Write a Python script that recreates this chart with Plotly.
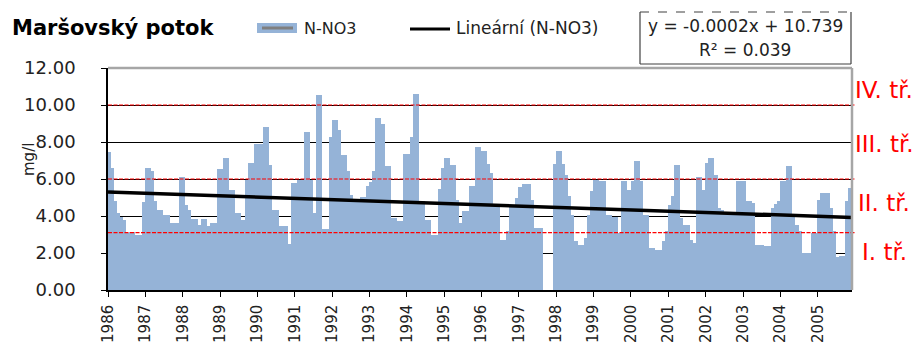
import numpy as np
import plotly.graph_objects as go

# Monthly N-NO3 concentration (mg/l), January 1986 - December 2005
years = list(range(1986, 2006))
n_no3 = [
    # 1986
    7.33, 6.49, 4.68, 4.05, 3.82, 3.69, 2.88, 2.95, 3.03, 2.88, 2.88, 2.88,
    # 1987
    4.65, 6.49, 6.30, 4.68, 4.20, 4.20, 3.93, 3.93, 3.33, 3.51, 3.51, 3.51,
    # 1988
    5.98, 4.50, 4.23, 3.75, 3.75, 3.42, 3.42, 3.75, 3.33, 3.33, 3.51, 3.51,
    # 1989
    6.43, 6.43, 7.03, 5.28, 5.28, 4.05, 4.05, 3.69, 3.69, 5.86, 6.76, 6.76,
    # 1990
    7.78, 7.78, 7.78, 8.68, 6.63, 4.23, 4.23, 3.33, 3.33, 3.33, 2.40, 2.40,
    # 1991
    5.68, 5.68, 5.86, 5.86, 8.43, 5.86, 4.05, 4.05, 10.41, 3.20, 3.20, 3.20,
    # 1992
    8.16, 9.06, 8.56, 7.20, 7.20, 6.30, 5.05, 4.68, 4.68, 4.68, 4.90, 2.97,
    # 1993
    5.50, 5.73, 6.34, 9.19, 8.86, 6.58, 6.58, 3.78, 3.78, 3.64, 3.60, 3.60,
    # 1994
    7.26, 7.26, 8.16, 10.50, 4.68, 4.68, 3.69, 3.69, 2.88, 2.88, 2.88, 5.37,
    # 1995
    6.49, 7.03, 6.67, 6.67, 4.77, 3.51, 3.51, 4.14, 4.14, 5.50, 5.50, 7.60,
    # 1996
    7.39, 7.39, 6.70, 6.20, 4.50, 4.50, 2.60, 2.60, 2.56, 3.06, 4.50, 4.50,
    # 1997
    4.86, 5.44, 5.62, 5.62, 4.77, 3.24, 3.24, 3.24, None, None, None, None,
    # 1998
    6.70, 7.39, 6.70, 6.13, 4.95, 3.96, 2.56, 2.34, 2.34, 2.34, 2.70, 3.96,
    # 1999
    5.23, 5.86, 5.77, 5.77, 3.96, 3.96, 3.82, 3.82, 2.97, 2.97, 5.77, 5.32,
    # 2000
    5.32, 5.77, 6.85, 5.77, 3.96, 3.96, 2.16, 2.16, 2.07, 2.07, 1.90, 2.56,
    # 2001
    3.06, 4.50, 5.00, 6.63, 3.78, 3.42, 3.42, 2.60, 2.43, 2.43, 5.98, 5.32,
    # 2002
    5.32, 6.76, 7.03, 6.13, 4.32, 4.23, 2.50, 4.05, 4.05, 4.05, 4.05, 5.77,
    # 2003
    5.77, 4.68, 4.68, 4.60, 2.34, 2.34, 2.34, 2.25, 2.25, 2.25, 4.32, 4.56,
    # 2004
    4.68, 5.77, 5.77, 6.58, 3.96, 3.42, 3.06, 1.90, 1.90, 1.90, 1.90, 2.97,
    # 2005
    2.97, 4.77, 5.14, 5.14, 4.32, 3.06, 1.66, 1.66, 1.71, 1.71, 4.68, 5.40,
]

# Water quality class limits (mg/l) and their labels
class_limits = [3.1, 6.0, 10.0]
class_labels = ["IV. tř.", "III. tř.", "II. tř.", "I. tř."]

equation_text = "y = -0.0002x + 10.739"
r2_text = "R² = 0.039"

FONT = "DejaVu Sans"
BAR = "#95B3D7"
RED = "#FF0000"

# plot area in page pixels
L, R, T, B = 108, 852, 68, 290
W, H = 916, 344


def px(xp):
    return (xp - L) / (R - L)


def py(yp):
    return (B - yp) / (B - T)


months = np.arange(len(n_no3))
vals = np.array([np.nan if v is None else v for v in n_no3], dtype=float)
ok = ~np.isnan(vals)
slope, intercept = np.polyfit(months[ok], vals[ok], 1)
trend_x = [int(months[0]), int(months[-1])]
trend_y = [intercept + slope * t for t in trend_x]

fig = go.Figure()
fig.add_trace(go.Bar(
    x=months, y=n_no3, width=1.0,
    marker=dict(color=BAR, line=dict(color=BAR, width=3)),
    showlegend=False, hoverinfo="skip",
))
fig.add_trace(go.Scatter(
    x=trend_x, y=trend_y, mode="lines",
    line=dict(color="black", width=3.5),
    showlegend=False, hoverinfo="skip",
))

shapes = []
# class limit lines
for lim in class_limits:
    shapes.append(dict(type="line", xref="paper", yref="y",
                       x0=0, x1=px(855), y0=lim, y1=lim,
                       line=dict(color=RED, width=1.2, dash="4px,1.5px"),
                       layer="above"))
# grey frame on top and right
shapes.append(dict(type="line", xref="paper", yref="paper", x0=0, x1=1, y0=1, y1=1,
                   line=dict(color="#A6A6A6", width=2.5), layer="above"))
shapes.append(dict(type="line", xref="paper", yref="paper", x0=1, x1=1, y0=0, y1=1,
                   line=dict(color="#A6A6A6", width=2.5), layer="above"))
# legend symbols
shapes.append(dict(type="rect", xref="paper", yref="paper",
                   x0=px(257), x1=px(297), y0=py(33), y1=py(23),
                   fillcolor=BAR, line=dict(width=0)))
shapes.append(dict(type="line", xref="paper", yref="paper",
                   x0=px(262), x1=px(293), y0=py(28), y1=py(28),
                   line=dict(color="#7F7F7F", width=3)))
shapes.append(dict(type="line", xref="paper", yref="paper",
                   x0=px(410), x1=px(450), y0=py(29), y1=py(29),
                   line=dict(color="black", width=3)))
# equation box
bx0, bx1, by0, by1 = 640, 851, 12, 64
for (a, b, c, d, dash) in [
    (bx0, by0, bx1, by0, "dash"),
    (bx0, by0, bx0, by1, "solid"),
    (bx1, by0, bx1, by1, "solid"),
    (bx0, by1, bx1, by1, "solid"),
]:
    shapes.append(dict(type="line", xref="paper", yref="paper",
                       x0=px(a), y0=py(b), x1=px(c), y1=py(d),
                       line=dict(color="#404040", width=1.2, dash=dash)))

annotations = [
    dict(text="<b>Maršovský potok</b>", x=px(10), y=py(28), xanchor="left", yanchor="middle",
         font=dict(family=FONT, size=21, color="black")),
    dict(text="N-NO3", x=px(302), y=py(28), xanchor="left", yanchor="middle",
         font=dict(family=FONT, size=16, color="#222")),
    dict(text="Lineární (N-NO3)", x=px(454), y=py(28), xanchor="left", yanchor="middle",
         font=dict(family=FONT, size=17, color="#222")),
    dict(text=equation_text, x=px(745), y=py(26), xanchor="center", yanchor="middle",
         font=dict(family=FONT, size=17, color="#222")),
    dict(text=r2_text, x=px(745), y=py(50), xanchor="center", yanchor="middle",
         font=dict(family=FONT, size=17, color="#222")),
    dict(text="mg/l", x=px(29), y=py(160), xanchor="center", yanchor="middle", textangle=-90,
         font=dict(family=FONT, size=15, color="#222")),
]
for label, ypos in zip(class_labels, [90, 144, 203, 252]):
    annotations.append(dict(text=label, x=px(884), y=py(ypos), xanchor="center", yanchor="middle",
                            font=dict(family=FONT, size=23, color=RED)))
for a in annotations:
    a.update(xref="paper", yref="paper", showarrow=False)

fig.update_layout(
    width=W, height=H, autosize=False,
    margin=dict(l=L, r=W - R, t=T, b=H - B, pad=0, autoexpand=False),
    paper_bgcolor="white", plot_bgcolor="white",
    bargap=0, showlegend=False,
    shapes=shapes, annotations=annotations,
    font=dict(family=FONT, color="#222"),
    xaxis=dict(
        range=[0, len(n_no3) - 1],
        tickvals=[12 * k for k in range(len(years))],
        ticktext=[str(yr) for yr in years],
        tickangle=-90, ticks="outside", ticklen=5, tickcolor="black", tickwidth=1.2,
        showline=True, linecolor="black", linewidth=1.5,
        showgrid=False, zeroline=False, automargin=False,
        tickfont=dict(family=FONT, size=15, color="#222"),
        ticklabelstandoff=2,
    ),
    yaxis=dict(
        range=[0, 12], dtick=2, tickformat=".2f",
        ticks="outside", ticklen=5, tickcolor="black", tickwidth=1.2,
        showline=True, linecolor="black", linewidth=1.5,
        showgrid=True, gridcolor="black", gridwidth=1,
        zeroline=False, automargin=False,
        tickfont=dict(family=FONT, size=18, color="#222"),
        ticklabelstandoff=22,
    ),
)

fig.write_html("out.html")
